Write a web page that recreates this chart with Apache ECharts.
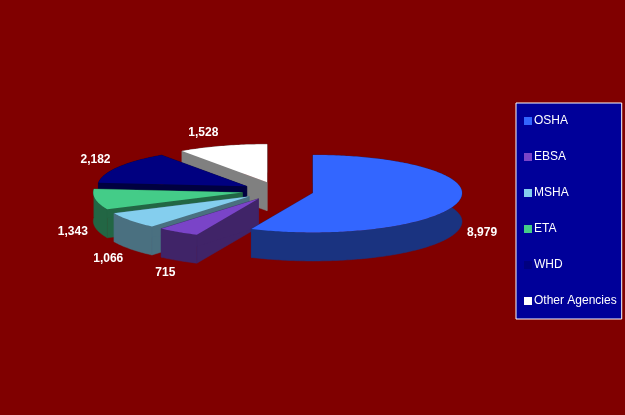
<!DOCTYPE html>
<html>
<head>
<meta charset="utf-8">
<style>html,body{margin:0;padding:0;background:#800000}#c{width:625px;height:415px}</style>
<script src="https://cdn.jsdelivr.net/npm/echarts@6/dist/echarts.min.js"></script>
</head>
<body>
<div id="c"></div>
<script>
const categories = ['OSHA', 'EBSA', 'MSHA', 'ETA', 'WHD', 'Other Agencies'];
const values = [8979, 715, 1066, 1343, 2182, 1528];
const valueLabels = ['8,979', '715', '1,066', '1,343', '2,182', '1,528'];
const topColors = ['#3366FF', '#7A44C8', '#84CEEE', '#44CC88', '#000080', '#FFFFFF'];
const sideColors = ['#1A3380', '#402468', '#4A7080', '#226644', '#000040', '#808080'];
const paintOrder = [5, 4, 3, 2, 1, 0];
const labelNudgeX = [0, 0, -3, 1, -2, -12];
const labelNudgeY = [0, 0, 1, 2, 0, 0];

const pie = { cx: 277.8, cy: 191, rx: 149, ryBack: 38, ryFront: 39.5, depth: 28.5, explode: 36, labelGap: 24, labelFlat: 0.6 };
const total = values.reduce((a, b) => a + b, 0);
const RAD = Math.PI / 180;

function sliceGeometry(i) {
  let before = 0;
  for (let k = 0; k < i; k++) before += values[k];
  const a0 = before / total * 360;
  const a1 = (before + values[i]) / total * 360;
  const mid = (a0 + a1) / 2 * RAD;
  const tilt = pie.ryBack / pie.rx;
  const ox = pie.cx + pie.explode * Math.sin(mid);
  const oy = pie.cy - pie.explode * tilt * Math.cos(mid);
  const rim = (a) => {
    const c = Math.cos(a);
    return [ox + pie.rx * Math.sin(a), oy - (c < 0 ? pie.ryFront : pie.ryBack) * c];
  };
  const arc = [];
  const n = Math.max(2, Math.ceil(a1 - a0));
  for (let s = 0; s <= n; s++) arc.push(rim((a0 + (a1 - a0) * s / n) * RAD));
  const edge = rim(mid);
  let lx = edge[0], ly = edge[1];
  if (Math.cos(mid) <= 0) ly += pie.depth;
  lx += pie.labelGap * Math.sin(mid) + labelNudgeX[i];
  ly += -pie.labelGap * pie.labelFlat * Math.cos(mid) + labelNudgeY[i];
  return { apex: [ox, oy], arc, lx, ly };
}

function renderSlice(i) {
  const g = sliceGeometry(i);
  const down = (p) => [p[0], p[1] + pie.depth];
  const first = g.arc[0], last = g.arc[g.arc.length - 1];
  const sideFaces = [
    [g.apex, first, down(first), down(g.apex)],
    [g.apex, last, down(last), down(g.apex)],
    g.arc.concat(g.arc.slice().reverse().map(down))
  ];
  const children = sideFaces.map((points) => ({
    type: 'polygon',
    shape: { points },
    style: { fill: sideColors[i], stroke: sideColors[i], lineWidth: 0.5 }
  }));
  children.push({ type: 'polygon', shape: { points: [g.apex].concat(g.arc) }, style: { fill: topColors[i] } });
  children.push({
    type: 'text',
    style: {
      text: valueLabels[i], x: g.lx, y: g.ly, fill: '#FFFFFF',
      font: 'bold 12px "Liberation Sans", Arial, sans-serif',
      align: 'center', verticalAlign: 'middle'
    }
  });
  return { type: 'group', children };
}

const chart = echarts.init(document.getElementById('c'), null, { renderer: 'canvas' });
chart.setOption({
  backgroundColor: '#800000',
  animation: false,
  legend: {
    orient: 'vertical',
    left: 516,
    top: 103,
    data: categories,
    selectedMode: false,
    icon: 'rect',
    itemWidth: 8,
    itemHeight: 8,
    itemGap: 22,
    padding: [11, 5, 11, 8],
    backgroundColor: '#000099',
    borderColor: '#FFFFFF',
    borderWidth: 1,
    borderRadius: 0,
    textStyle: {
      color: '#FFFFFF',
      fontFamily: '"Liberation Sans", Arial, sans-serif',
      fontSize: 12,
      padding: [0, 0, 0, -3],
      lineHeight: 14
    }
  },
  series: categories.map((name, i) => ({
    type: 'custom',
    name,
    coordinateSystem: 'none',
    silent: true,
    z: 2 + paintOrder.indexOf(i),
    itemStyle: { color: topColors[i] },
    data: [[values[i]]],
    renderItem: () => renderSlice(i)
  }))
});
</script>
</body>
</html>
